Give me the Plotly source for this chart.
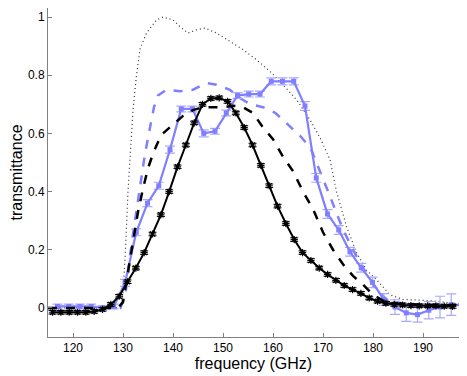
import numpy as np
import plotly.graph_objects as go

# measured (black solid, with error bars)
f_meas = [115.9 + 1.667 * k for k in range(49)]
t_meas = [-0.015, -0.015, -0.015, -0.015, -0.015, -0.012, -0.005, 0.012, 0.04, 0.09,
          0.137, 0.19, 0.254, 0.32, 0.40, 0.485, 0.56, 0.636, 0.70, 0.72,
          0.722, 0.71, 0.67, 0.62, 0.56, 0.49, 0.42, 0.35, 0.29, 0.235,
          0.19, 0.163, 0.137, 0.115, 0.095, 0.077, 0.063, 0.05, 0.034, 0.023,
          0.016, 0.012, 0.01, 0.008, 0.007, 0.007, 0.007, 0.006, 0.005]
e_meas = [0.006] * 49

# model (black dashed)
f_model = [115, 120, 125, 129, 130, 131, 132, 133, 134, 135, 136, 137, 138, 140, 142, 144,
           146, 148, 150, 152, 154, 156, 158, 160, 162, 164, 166, 168, 170, 172, 174,
           176, 178, 180, 182, 185, 190, 197.2]
t_model = [0.0, 0.0, 0.0, 0.0, 0.02, 0.12, 0.23, 0.33, 0.41, 0.48, 0.53, 0.57, 0.60, 0.63,
           0.66, 0.68, 0.69, 0.69, 0.69, 0.695, 0.69, 0.67, 0.62, 0.58, 0.52, 0.47, 0.40,
           0.34, 0.26, 0.20, 0.15, 0.11, 0.08, 0.045, 0.025, 0.015, 0.01, 0.01]

# filter (black dotted)
f_filt = [115, 125, 129.5, 130, 130.5, 131, 131.5, 132, 132.7, 133.4, 134.7, 136.7, 138,
          140, 141.7, 143, 144.7, 146.4, 148.7, 151.4, 154, 156.7, 159.4, 162, 164.7,
          167.4, 169.4, 171.4, 172.7, 174.7, 176.7, 178.7, 180.7, 183.4, 186, 191.4, 197.2]
t_filt = [0.0, 0.0, 0.0, 0.05, 0.2, 0.4, 0.55, 0.68, 0.8, 0.89, 0.945, 0.99, 1.0,
          0.99, 0.962, 0.945, 0.956, 0.962, 0.945, 0.915, 0.888, 0.853, 0.813, 0.767, 0.716,
          0.647, 0.585, 0.51, 0.40, 0.28, 0.19, 0.13, 0.097, 0.045, 0.029, 0.025, 0.014]

# second model (blue dashed)
f_model2 = [115, 125, 129.5, 130.5, 131.4, 132.4, 133.4, 134.4, 135.4, 136.2, 137, 138.7,
            141.4, 144, 146.7, 148.7, 151.4, 153, 155.5, 158, 160.5, 163, 165.5, 167.5,
            168.7, 170, 171.4, 172.7, 174, 175.7, 177.4, 179.4, 180.7, 183, 187, 197.2]
t_model2 = [0.0, 0.0, 0.0, 0.05, 0.18, 0.3, 0.42, 0.53, 0.62, 0.69, 0.73, 0.75,
            0.745, 0.75, 0.773, 0.767, 0.75, 0.725, 0.70, 0.69, 0.67, 0.63, 0.59, 0.55,
            0.50, 0.44, 0.384, 0.326, 0.27, 0.21, 0.155, 0.097, 0.063, 0.025, 0.012, 0.01]

# second measurement (blue solid, with error bars)
f_meas2 = [116.9 + 2.25 * k for k in range(36)]
t_meas2 = [0.005, 0.005, 0.005, 0.005, 0.0, 0.005, 0.086, 0.26, 0.36, 0.42,
           0.544, 0.684, 0.684, 0.60, 0.607, 0.67, 0.73, 0.735, 0.735, 0.779,
           0.779, 0.779, 0.694, 0.447, 0.323, 0.268, 0.193, 0.138, 0.088, 0.029,
           0.003, -0.017, -0.023, -0.008, 0.003, 0.011]
e_meas2 = [0.008, 0.008, 0.008, 0.008, 0.008, 0.008, 0.012, 0.012, 0.012, 0.012,
           0.012, 0.01, 0.01, 0.012, 0.01, 0.01, 0.01, 0.01, 0.01, 0.012,
           0.012, 0.012, 0.015, 0.015, 0.015, 0.015, 0.015, 0.015, 0.018, 0.02,
           0.025, 0.029, 0.026, 0.03, 0.037, 0.037]

blue = "#7f7fff"
blue_err = "#a9a9ff"

fig = go.Figure()
fig.add_trace(go.Scatter(x=f_filt, y=t_filt, mode="lines",
                         line=dict(color="#333333", width=1.2, dash="1px,3px")))
fig.add_trace(go.Scatter(x=f_model2, y=t_model2, mode="lines",
                         line=dict(color=blue, width=2.5, dash="dash")))
fig.add_trace(go.Scatter(x=f_meas2, y=t_meas2, mode="lines+markers",
                         line=dict(color=blue, width=2.2),
                         marker=dict(symbol="square", size=5, color=blue),
                         error_y=dict(type="data", array=e_meas2, color=blue_err,
                                      thickness=1.2, width=5)))
fig.add_trace(go.Scatter(x=f_model, y=t_model, mode="lines",
                         line=dict(color="black", width=2.5, dash="dash")))
fig.add_trace(go.Scatter(x=f_meas, y=t_meas, mode="lines+markers",
                         line=dict(color="black", width=2),
                         marker=dict(symbol="asterisk-open", size=6,
                                     line=dict(color="black", width=1.2)),
                         error_y=dict(type="data", array=e_meas, color="black",
                                      thickness=1, width=4)))

axis_style = dict(showline=True, linecolor="#808080", linewidth=1, ticks="inside",
                  ticklen=4, tickcolor="#808080", showgrid=False, zeroline=False,
                  tickfont=dict(size=12, color="black"), mirror=False, automargin=False)

# page has an 8px body margin, so the figure is 8px smaller and shifted
fig.update_layout(
    width=459, height=368,
    margin=dict(l=40, r=8, t=0, b=39),
    plot_bgcolor="white", paper_bgcolor="white",
    showlegend=False,
    font=dict(family="Liberation Sans, Arial, sans-serif", color="black"),
    xaxis=dict(range=[115, 197.2], tickvals=[120, 130, 140, 150, 160, 170, 180, 190],
               title=dict(text="frequency (GHz)", font=dict(size=16), standoff=3),
               **axis_style),
    yaxis=dict(range=[-0.1, 1.031], tickvals=[0, 0.2, 0.4, 0.6, 0.8, 1],
               ticktext=["0", "0.2", "0.4", "0.6", "0.8", "1"],
               title=dict(text="transmittance", font=dict(size=16), standoff=10),
               **axis_style),
)

fig.write_html("out.html")
